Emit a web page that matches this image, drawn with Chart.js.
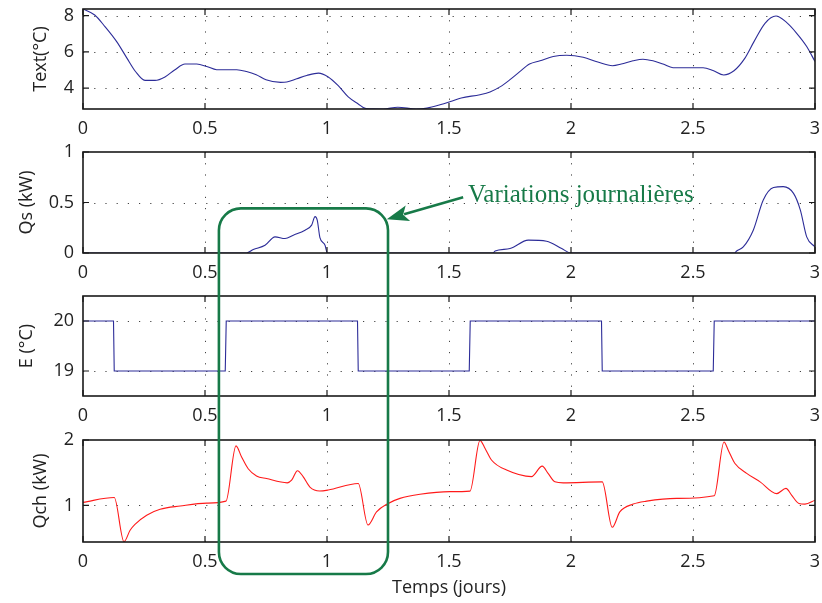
<!DOCTYPE html>
<html><head><meta charset="utf-8">
<script src="https://cdn.jsdelivr.net/npm/chart.js@4"></script>
<style>
html,body{margin:0;padding:0;background:#fff;}
#wrap{position:relative;width:822px;height:603px;overflow:hidden;background:#fff;}
.c{position:absolute;left:0;}
#ov{position:absolute;left:0;top:0;pointer-events:none;}
#note{position:absolute;font-family:"Liberation Serif","Times New Roman",serif;font-size:25px;color:#177a48;white-space:nowrap;line-height:1;}
</style></head><body>
<div id="wrap">
<canvas id="c1" class="c" width="822" height="148" style="top:1px"></canvas>
<canvas id="c2" class="c" width="822" height="149" style="top:144px"></canvas>
<canvas id="c3" class="c" width="822" height="148" style="top:288px"></canvas>
<canvas id="c4" class="c" width="822" height="171" style="top:432px"></canvas>
<canvas id="ov" width="822" height="603"></canvas>
<div id="note">Variations journalières</div>
</div>
<script>
// ---- data ----
const xTicks = [0, 0.5, 1, 1.5, 2, 2.5, 3];
const xTickLabels = ['0', '0.5', '1', '1.5', '2', '2.5', '3'];

const tText = [0,0.048,0.09,0.138,0.18,0.215,0.254,0.295,0.336,0.377,0.418,0.466,0.507,0.548,0.63,0.67,0.71,0.75,0.81,0.835,0.876,0.917,0.965,1.005,1.046,1.087,1.128,1.16,1.23,1.29,1.366,1.41,1.463,1.51,1.55,1.627,1.668,1.709,1.75,1.79,1.83,1.873,1.927,1.982,2.05,2.11,2.17,2.206,2.254,2.295,2.336,2.377,2.418,2.541,2.582,2.626,2.668,2.71,2.75,2.795,2.84,2.88,2.925,2.966,3.0];
const textVals = [8.37,8.04,7.4,6.57,5.66,4.92,4.43,4.43,4.62,5.02,5.33,5.33,5.2,5.02,5.02,4.92,4.74,4.47,4.32,4.34,4.52,4.7,4.83,4.62,4.14,3.52,3.13,2.87,2.85,2.95,2.85,2.9,3.08,3.28,3.46,3.64,3.79,4.07,4.47,4.91,5.33,5.51,5.75,5.82,5.71,5.44,5.24,5.33,5.51,5.6,5.51,5.33,5.13,5.13,4.98,4.73,4.96,5.6,6.57,7.58,7.98,7.67,7.03,6.3,5.47];
const textTicks = [4, 6, 8];
const textTickLabels = ['4', '6', '8'];

const tQs = [0,0.67,0.698,0.746,0.787,0.828,0.862,0.91,0.937,0.951,0.96,0.971,0.992,1.001,1.68,1.689,1.75,1.825,1.9,1.962,2.0,2.67,2.679,2.706,2.747,2.788,2.83,2.87,2.912,2.94,2.966,3.0];
const qsVals = [0,0,0.034,0.077,0.16,0.143,0.176,0.226,0.276,0.36,0.326,0.153,0.077,0,0,0.02,0.044,0.127,0.117,0.044,0,0,0.02,0.06,0.226,0.525,0.648,0.657,0.59,0.425,0.16,0.06];
const qsTicks = [0, 0.5, 1];
const qsTickLabels = ['0', '0.5', '1'];

const tE = [0,0.125,0.128,0.583,0.587,1.125,1.128,1.583,1.587,2.125,2.128,2.583,2.587,3];
const eVals = [20,20,19,19,20,20,19,19,20,20,19,19,20,20];
const eTicks = [19, 20];
const eTickLabels = ['19', '20'];

const tQch = [0,0.128,0.168,0.193,0.213,0.261,0.316,0.398,0.507,0.586,0.627,0.65,0.677,0.711,0.752,0.837,0.855,0.879,0.902,0.93,0.97,1.005,1.128,1.168,1.203,1.251,1.299,1.381,1.504,1.586,1.627,1.648,1.675,1.736,1.838,1.882,1.906,1.934,1.968,2.128,2.169,2.2,2.255,2.31,2.433,2.587,2.627,2.645,2.672,2.72,2.775,2.843,2.881,2.904,2.934,2.959,3.0];
const qchVals = [1.046,1.12,0.445,0.62,0.71,0.85,0.94,0.99,1.035,1.065,1.91,1.74,1.56,1.45,1.41,1.345,1.385,1.53,1.44,1.28,1.22,1.235,1.335,0.7,0.9,1.03,1.107,1.17,1.21,1.218,1.995,1.87,1.69,1.54,1.44,1.6,1.49,1.36,1.345,1.36,0.665,0.9,1.02,1.065,1.107,1.147,1.97,1.84,1.64,1.49,1.36,1.18,1.26,1.157,1.03,1.02,1.08];
const qchTicks = [1, 2];
const qchTickLabels = ['1', '2'];

// annotation (data coordinates)
const boxX = [0.557, 1.25];
const boxTopQs = 0.442;
const boxBottomQch = -0.05;
const arrowFrom = [1.558, 0.552];
const arrowTo = [1.245, 0.333];
const noteAt = [1.578, 0.585];
const noteText = 'Variations journalières';

// ---- styles ----
const FONT = {family: '"Open Sans", "DejaVu Sans", sans-serif', size: 18, lineHeight: 1.2};
const TXT = '#222';
const GREEN = '#177a48';

const framePlugin = {
  id: 'frame',
  beforeDatasetsDraw(chart) {
    const {ctx, chartArea: a, scales: {x, y}} = chart;
    ctx.save();
    ctx.strokeStyle = '#444';
    ctx.lineWidth = 1;
    ctx.setLineDash([1.2, 10]);
    x.ticks.forEach(t => {
      const px = Math.round(x.getPixelForValue(t.value)) + 0.5;
      if (px <= a.left + 2 || px >= a.right - 2) return;
      ctx.beginPath(); ctx.moveTo(px, a.top); ctx.lineTo(px, a.bottom); ctx.stroke();
    });
    y.ticks.forEach(t => {
      const py = Math.round(y.getPixelForValue(t.value)) + 0.5;
      if (py <= a.top + 2 || py >= a.bottom - 2) return;
      ctx.beginPath(); ctx.moveTo(a.left, py); ctx.lineTo(a.right, py); ctx.stroke();
    });
    ctx.restore();
  },
  afterDatasetsDraw(chart) {
    const {ctx, chartArea: a, scales: {x, y}} = chart;
    ctx.save();
    ctx.strokeStyle = '#1a1a1a';
    ctx.lineWidth = 1.6;
    ctx.setLineDash([]);
    ctx.strokeRect(a.left, a.top, a.right - a.left, a.bottom - a.top);
    ctx.lineWidth = 1.2;
    const L = 6;
    x.ticks.forEach(t => {
      const px = x.getPixelForValue(t.value);
      ctx.beginPath();
      ctx.moveTo(px, a.bottom); ctx.lineTo(px, a.bottom - L);
      ctx.moveTo(px, a.top); ctx.lineTo(px, a.top + L);
      ctx.stroke();
    });
    y.ticks.forEach(t => {
      const py = y.getPixelForValue(t.value);
      ctx.beginPath();
      ctx.moveTo(a.left, py); ctx.lineTo(a.left + L, py);
      ctx.moveTo(a.right, py); ctx.lineTo(a.right - L, py);
      ctx.stroke();
    });
    ctx.restore();
  }
};

function pts(ts, vs) { return ts.map((t, i) => ({x: t, y: vs[i]})); }
function zeroPad(s) { s.paddingTop = 0; s.paddingBottom = 0; s.paddingLeft = 0; s.paddingRight = 0; }

function makeChart(id, ts, vs, color, yMin, yMax, yT, yTL, yTitle, titlePad, xH, xTitle, smooth) {
  const xScale = {
    type: 'linear', min: 0, max: 3,
    grid: {display: false, drawTicks: false},
    border: {display: false},
    afterBuildTicks: s => { s.ticks = xTicks.map(v => ({value: v})); },
    afterFit: s => { s.height = xH; zeroPad(s); },
    ticks: {
      padding: 9, color: TXT, font: FONT, maxRotation: 0, autoSkip: false,
      callback: (v, i) => xTickLabels[i]
    },
    title: xTitle ? {display: true, text: xTitle, color: TXT, font: FONT, padding: {top: 0, bottom: 4}} : {display: false}
  };
  const yScale = {
    type: 'linear', min: yMin, max: yMax,
    grid: {display: false, drawTicks: false},
    border: {display: false},
    afterBuildTicks: s => { s.ticks = yT.map(v => ({value: v})); },
    afterFit: s => { s.width = 83; zeroPad(s); },
    ticks: {padding: 9, color: TXT, font: FONT, callback: (v, i) => yTL[i]},
    title: {display: true, text: yTitle, color: TXT, font: FONT, padding: {top: titlePad, bottom: 0}}
  };
  return new Chart(document.getElementById(id), {
    type: 'line',
    data: {datasets: [{
      data: pts(ts, vs), borderColor: color, borderWidth: 1.1,
      pointRadius: 0, fill: false, tension: 0,
      cubicInterpolationMode: smooth ? 'monotone' : 'default'
    }]},
    options: {
      responsive: false, animation: false, events: [],
      parsing: false,
      layout: {padding: {top: 8, left: 0, right: 7, bottom: 0}},
      plugins: {legend: {display: false}, tooltip: {enabled: false}},
      scales: {x: xScale, y: yScale}
    },
    plugins: [framePlugin]
  });
}

const BLUE = '#2c2c98';
const RED = '#ff1a1a';
const c1 = makeChart('c1', tText, textVals, BLUE, 2.85, 8.37, textTicks, textTickLabels, 'Text(°C)', 30, 40, null, true);
const c2 = makeChart('c2', tQs, qsVals, BLUE, 0, 1, qsTicks, qsTickLabels, 'Qs (kW)', 16, 40, null, true);
const c3 = makeChart('c3', tE, eVals, BLUE, 18.5, 20.5, eTicks, eTickLabels, 'E (°C)', 16, 40, null, false);
const c4 = makeChart('c4', tQch, qchVals, RED, 0.44, 2, qchTicks, qchTickLabels, 'Qch (kW)', 30, 61, 'Temps (jours)', true);

// ---- annotation overlay ----
(function () {
  const off2 = document.getElementById('c2').offsetTop;
  const off4 = document.getElementById('c4').offsetTop;
  const sx = c2.scales.x, sy2 = c2.scales.y, sy4 = c4.scales.y;
  const ctx = document.getElementById('ov').getContext('2d');
  const x0 = sx.getPixelForValue(boxX[0]), x1 = sx.getPixelForValue(boxX[1]);
  const y0 = off2 + sy2.getPixelForValue(boxTopQs);
  const y1 = off4 + sy4.getPixelForValue(boxBottomQch);
  ctx.strokeStyle = GREEN;
  ctx.lineWidth = 2.6;
  ctx.beginPath();
  ctx.roundRect(x0, y0, x1 - x0, y1 - y0, 22);
  ctx.stroke();
  // arrow
  const ax0 = sx.getPixelForValue(arrowFrom[0]), ay0 = off2 + sy2.getPixelForValue(arrowFrom[1]);
  const ax1 = sx.getPixelForValue(arrowTo[0]), ay1 = off2 + sy2.getPixelForValue(arrowTo[1]);
  const ang = Math.atan2(ay1 - ay0, ax1 - ax0);
  const HL = 22, HW = 8;
  const bx = ax1 - HL * Math.cos(ang), by = ay1 - HL * Math.sin(ang);
  ctx.lineWidth = 2.6;
  ctx.beginPath(); ctx.moveTo(ax0, ay0); ctx.lineTo(bx + 4 * Math.cos(ang), by + 4 * Math.sin(ang)); ctx.stroke();
  ctx.fillStyle = GREEN;
  ctx.beginPath();
  ctx.moveTo(ax1, ay1);
  ctx.lineTo(bx - HW * Math.sin(ang), by + HW * Math.cos(ang));
  ctx.lineTo(bx + 5 * Math.cos(ang), by + 5 * Math.sin(ang));
  ctx.lineTo(bx + HW * Math.sin(ang), by - HW * Math.cos(ang));
  ctx.closePath();
  ctx.fill();
  // text
  const note = document.getElementById('note');
  note.textContent = noteText;
  const nx = sx.getPixelForValue(noteAt[0]);
  const ny = off2 + sy2.getPixelForValue(noteAt[1]);
  note.style.left = nx + 'px';
  note.style.top = (ny - note.offsetHeight / 2) + 'px';
})();
</script>
</body></html>
